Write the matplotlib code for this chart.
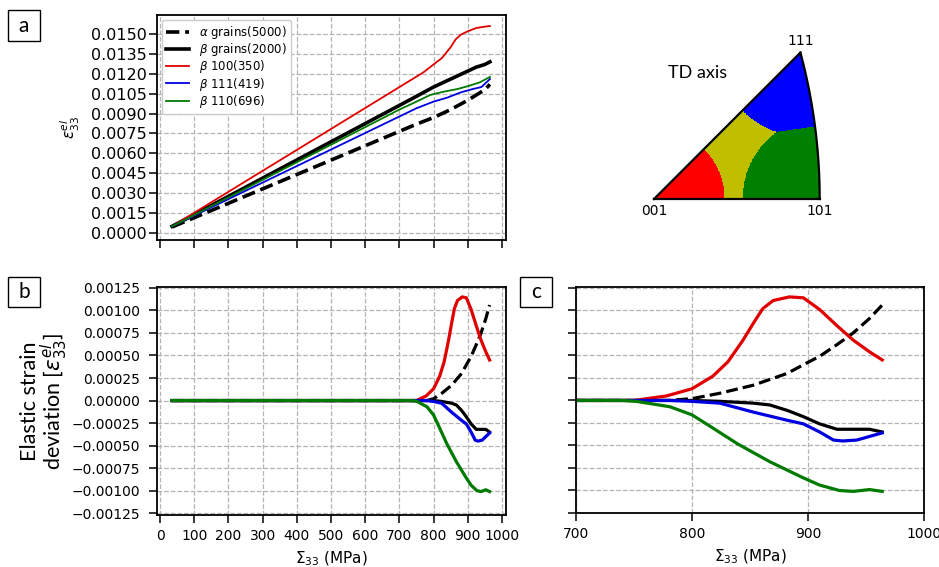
import numpy as np
import matplotlib
matplotlib.use("Agg")
import matplotlib.pyplot as plt
from matplotlib.patches import Rectangle
from matplotlib.colors import ListedColormap
from matplotlib.ticker import MultipleLocator, FuncFormatter

plt.rcParams['font.family'] = ['DejaVu Sans']

# ---- panel a : lattice strain vs applied stress
sig_alpha = [35, 750, 800, 850, 900, 925, 950, 965]
eps_alpha = [0.00045, 0.0082, 0.0087, 0.0093, 0.0100, 0.0104, 0.0108, 0.0112]
sig_beta = [35, 750, 800, 850, 900, 925, 950, 965]
eps_beta = [0.0005, 0.0103, 0.0110, 0.0116, 0.0122, 0.0125, 0.0127, 0.0129]
sig_100 = [35, 770, 800, 825, 850, 865, 880, 900, 925, 950, 965]
eps_100 = [0.0005, 0.0121, 0.0127, 0.0132, 0.0140, 0.0146, 0.01495, 0.0152, 0.01545, 0.01555, 0.0156]
sig_111 = [35, 750, 800, 840, 880, 915, 940, 965]
eps_111 = [0.0005, 0.0094, 0.0099, 0.0102, 0.0106, 0.01085, 0.0110, 0.0116]
sig_110 = [35, 700, 750, 790, 830, 870, 905, 935, 965]
eps_110 = [0.0005, 0.0093, 0.0099, 0.0104, 0.01065, 0.01085, 0.0111, 0.01135, 0.01176]

labels = [r'$\alpha$ grains(5000)', r'$\beta$ grains(2000)', r'$\beta$ 100(350)',
          r'$\beta$ 111(419)', r'$\beta$ 110(696)']

# ---- panels b, c : elastic strain deviation
dx_alpha = [35, 780, 800, 824, 853, 882, 898, 910, 925, 939, 953, 964]
dev_alpha = [0, 0, 0.00002, 0.00008, 0.00017, 0.0003, 0.00041, 0.00049, 0.00062, 0.00075, 0.00091, 0.00106]
dx_beta = [35, 800, 824, 853, 867, 882, 896, 910, 925, 939, 953, 964]
dev_beta = [0, 0, -0.00001, -0.00003, -0.00005, -0.00011, -0.00018, -0.00026, -0.00032, -0.00032, -0.00032, -0.00035]
dx_100 = [35, 750, 778, 800, 818, 831, 844, 853, 861, 870, 884, 896, 910, 925, 939, 953, 964]
dev_100 = [0, 0, 0.00005, 0.00013, 0.00027, 0.00043, 0.00067, 0.00086, 0.00102, 0.00111, 0.00115,
           0.00114, 0.00101, 0.00083, 0.00067, 0.00054, 0.00045]
dx_111 = [35, 780, 800, 824, 853, 882, 896, 910, 922, 930, 942, 953, 964]
dev_111 = [0, 0, -0.00001, -0.00003, -0.00013, -0.00022, -0.00026, -0.00035, -0.00044, -0.00045,
           -0.00044, -0.0004, -0.00036]
dx_110 = [35, 740, 752, 781, 800, 816, 839, 867, 896, 910, 927, 939, 953, 964]
dev_110 = [0, 0, -0.00001, -0.00007, -0.00016, -0.00029, -0.00048, -0.00068, -0.00086, -0.00094,
           -0.001, -0.00101, -0.00099, -0.00101]

# ---- inverse pole figure : poles and tolerance angle (deg)
pole_names = ['001', '101', '111']
pole_dirs = [(0, 0, 1), (1, 0, 1), (1, 1, 1)]
tol_deg = 20

W, H = 939, 567
fig = plt.figure(figsize=(W / 100, H / 100), dpi=100)


def px_axes(l, t, r, b):
    return fig.add_axes([l / W, 1 - b / H, (r - l) / W, (b - t) / H])


def style(ax):
    ax.grid(True, color='#b4b4b4', linestyle='--', linewidth=0.9)
    ax.set_axisbelow(True)
    for s in ax.spines.values():
        s.set_linewidth(1.3)
    ax.tick_params(length=6, width=1.1, labelsize=10, pad=4)


def fmt5(v, pos):
    s = f"{v:.5f}"
    if s.replace('-', '').replace('0', '').replace('.', '') == '':
        return "0.00000"
    return s.replace('-', '\u2212')


# panel a
ax1 = px_axes(157, 15, 506, 240)
style(ax1)
ax1.plot(sig_alpha, eps_alpha, 'k--', lw=2.6, label=labels[0])
ax1.plot(sig_beta, eps_beta, 'k-', lw=2.6, label=labels[1])
ax1.plot(sig_100, eps_100, color='#e00000', lw=1.3, label=labels[2])
ax1.plot(sig_111, eps_111, color='#0000e0', lw=1.3, label=labels[3])
ax1.plot(sig_110, eps_110, color='#007a00', lw=1.3, label=labels[4])
ax1.set_xlim(-9, 1012)
ax1.set_ylim(-0.00053, 0.01643)
ax1.xaxis.set_major_locator(MultipleLocator(100))
ax1.yaxis.set_major_locator(MultipleLocator(0.0015))
ax1.yaxis.set_major_formatter(FuncFormatter(lambda v, p: f"{abs(v):.4f}" if abs(v) < 1e-9 else f"{v:.4f}"))
ax1.tick_params(axis='y', labelsize=11.5, pad=1.5)
ax1.tick_params(axis='x', labelbottom=False)
ax1.set_ylabel(r'$\varepsilon^{el}_{33}$', fontsize=11)
ax1.yaxis.set_label_coords(-0.215, 0.5)
ax1.legend(loc='upper left', fontsize=8.5, handlelength=2.0, borderaxespad=0.4,
           labelspacing=0.02, borderpad=0.35, framealpha=1, edgecolor='#cccccc')

# panel b and c
ax2 = px_axes(157, 287, 506, 515)
ax3 = px_axes(576, 287, 924, 513)
for ax in (ax2, ax3):
    style(ax)
    ax.plot(dx_alpha, dev_alpha, 'k--', lw=2.3)
    ax.plot(dx_beta, dev_beta, 'k-', lw=2.3)
    ax.plot(dx_100, dev_100, color='#e00000', lw=2.3)
    ax.plot(dx_111, dev_111, color='#0000e0', lw=2.3)
    ax.plot(dx_110, dev_110, color='#007a00', lw=2.3)
    ax.yaxis.set_major_locator(MultipleLocator(0.00025))
    ax.yaxis.set_major_formatter(FuncFormatter(fmt5))
    ax.set_xlabel(r'$\Sigma_{33}$ (MPa)', fontsize=11, labelpad=4.5)

ax2.set_xlim(-9, 1012)
ax2.set_ylim(-0.00127, 0.00126)
ax2.xaxis.set_major_locator(MultipleLocator(100))
ax2.tick_params(axis='y', pad=6)
ax2.set_ylabel('Elastic strain\ndeviation [$\\varepsilon^{el}_{33}$]', fontsize=15.5,
               family='Lato', linespacing=0.95)
ax2.yaxis.set_label_coords(-0.248, 0.5)

ax3.set_xlim(700, 1000)
ax3.set_ylim(-0.00125, 0.00126)
ax3.xaxis.set_major_locator(MultipleLocator(100))
ax3.tick_params(axis='y', labelleft=False)

# inverse pole figure (stereographic standard triangle)
ax4 = px_axes(620, 30, 860, 230)
ax4.set_xlim(-0.085, 0.515)
ax4.set_ylim(-0.0775, 0.4225)
ax4.axis('off')

u = np.linspace(0, 0.42, 420)
v = np.linspace(0, 0.37, 370)
U, V = np.meshgrid(u, v)
R2 = U ** 2 + V ** 2
X, Y, Z = 2 * U / (1 + R2), 2 * V / (1 + R2), (1 - R2) / (1 + R2)
inside = (Y <= X) & (X <= Z)
angles = []
for d in pole_dirs:
    d = np.array(d, float) / np.linalg.norm(d)
    angles.append(np.degrees(np.arccos(np.clip(X * d[0] + Y * d[1] + Z * d[2], -1, 1))))
a001, a101, a111 = angles
cls = np.full(U.shape, np.nan)
cls[inside] = 1
cls[inside & (a101 < tol_deg)] = 2
cls[inside & (a111 < tol_deg) & (a111 < a101)] = 3
cls[inside & (a001 < tol_deg)] = 0
cmap = ListedColormap(['#ff0000', '#bfbf00', '#008000', '#0000ff'])
ax4.imshow(np.ma.masked_invalid(cls), origin='lower', extent=[0, 0.42, 0, 0.37],
           cmap=cmap, vmin=-0.5, vmax=3.5, interpolation='nearest', aspect='auto')

t = np.linspace(0, 1, 60)
arc = np.stack([np.ones_like(t), t, np.ones_like(t)]) / np.sqrt(2 + t ** 2)
p111 = 1 / np.sqrt(3) / (1 + 1 / np.sqrt(3))
p101 = (1 / np.sqrt(2)) / (1 + 1 / np.sqrt(2))
ax4.plot([0, p101], [0, 0], 'k-', lw=1.6)
ax4.plot([0, p111], [0, p111], 'k-', lw=1.6)
ax4.plot(arc[0] / (1 + arc[2]), arc[1] / (1 + arc[2]), 'k-', lw=1.6)
ax4.text(0, -0.012, pole_names[0], ha='center', va='top', fontsize=10)
ax4.text(p101, -0.012, pole_names[1], ha='center', va='top', fontsize=10)
ax4.text(p111, p111 + 0.012, pole_names[2], ha='center', va='bottom', fontsize=10)
ax4.text(0.11, 0.315, 'TD axis', ha='center', va='center', fontsize=13, family='Lato')

# panel letters
for letter, (l, t_, r, b) in zip('abc', [(8, 10, 40, 41), (8, 277, 40, 307), (520, 277, 552, 307)]):
    fig.add_artist(Rectangle((l / W, 1 - b / H), (r - l) / W, (b - t_) / H,
                             transform=fig.transFigure, fc='white', ec='black', lw=1.0))
    fig.text((l + r) / 2 / W, 1 - (t_ + b) / 2 / H, letter, ha='center', va='center',
             fontsize=15, family='Lato')

fig.savefig('out.png', dpi=100)
